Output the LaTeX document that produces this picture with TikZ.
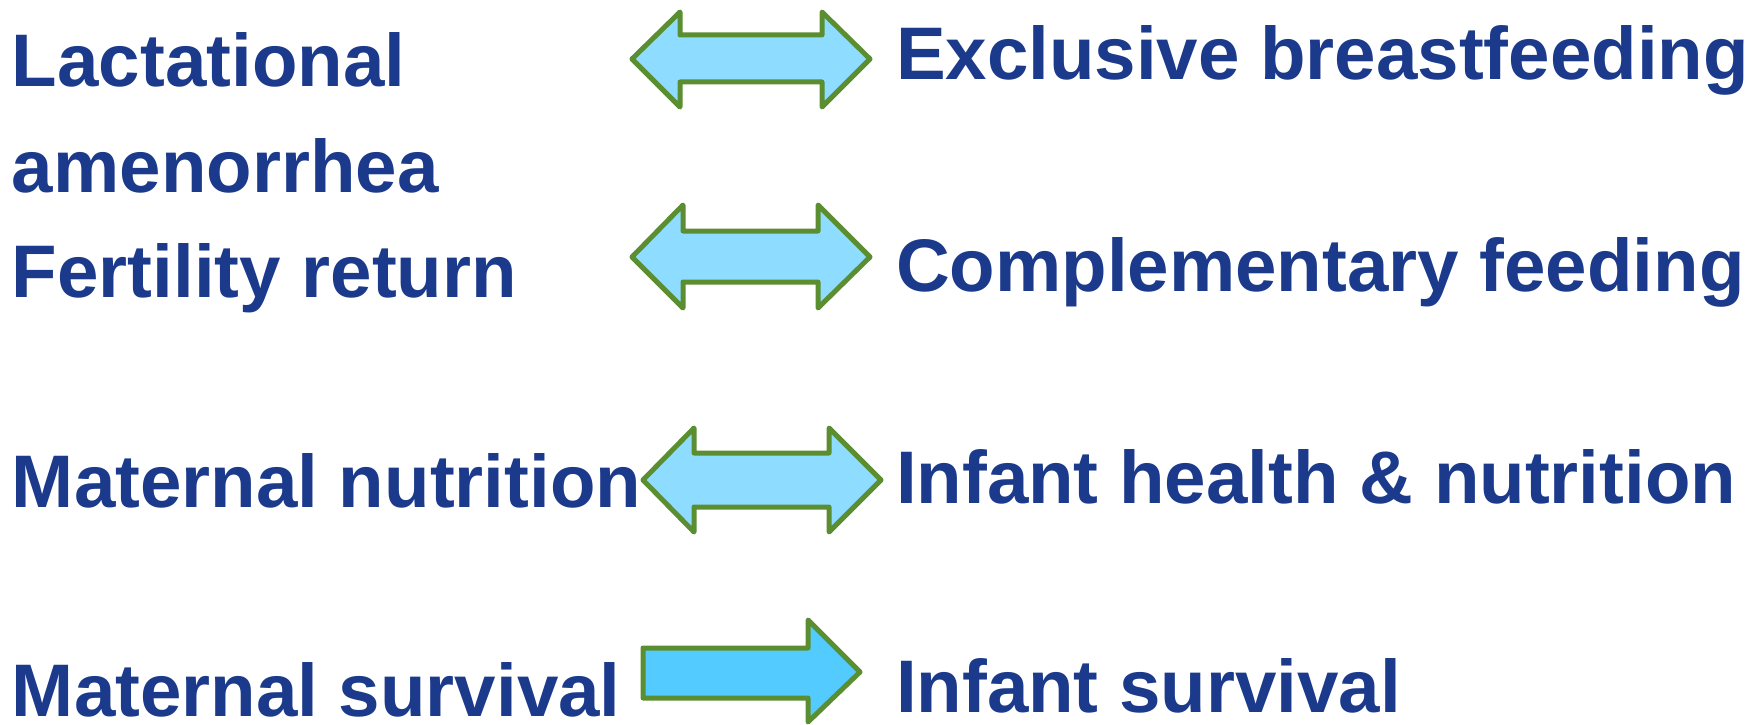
\documentclass[tikz,border=0pt]{standalone}
\usepackage{fontspec}
\setmainfont{Liberation Sans}
\definecolor{txt}{HTML}{1B3A8B}
\definecolor{edge}{HTML}{5B8E31}
\definecolor{lightfill}{HTML}{8EDCFF}
\definecolor{darkfill}{HTML}{53CBFF}
\begin{document}
\begin{tikzpicture}[x=1pt,y=-1pt,
  lbl/.style={anchor=base west,inner sep=0pt,outer sep=0pt,text depth=0pt,text=txt,font=\fontsize{74.5}{88}\selectfont\bfseries},
  arrowshape/.style={draw=edge,line width=5pt,line join=round}]
\useasboundingbox (0,0) rectangle (1754,725);
% left texts
\node[lbl] (lact) at (12,86) {Lactational};
\node[lbl] (amen) at (12,192) {amenorrhea};
\node[lbl] (fert) at (12,297) {Fertility return};
\node[lbl] (matn) at (12,507) {Maternal nutrition};
\node[lbl] (mats) at (12,716) {Maternal survival};
% right texts
\node[lbl] (excl) at (896,79) {Exclusive breastfeeding};
\node[lbl] (comp) at (896,291) {Complementary feeding};
\node[lbl] (infh) at (896,503) {Infant health \& nutrition};
\node[lbl] (infs) at (896,712) {Infant survival};
% arrows
\draw[arrowshape,fill=lightfill] (632,59) -- (680,12) -- (680,35) -- (822,35) -- (822,12) -- (870,59) -- (822,107) -- (822,82) -- (680,82) -- (680,107) -- cycle;
\draw[arrowshape,fill=lightfill] (632,257) -- (683,205) -- (683,231) -- (818,231) -- (818,205) -- (870,257) -- (818,308) -- (818,282) -- (683,282) -- (683,308) -- cycle;
\draw[arrowshape,fill=lightfill] (643,480) -- (694,428) -- (694,453) -- (829,453) -- (829,428) -- (881,480) -- (829,532) -- (829,507) -- (694,507) -- (694,532) -- cycle;
\draw[arrowshape,fill=darkfill] (643,648) -- (808,648) -- (808,620) -- (860,672) -- (808,722) -- (808,698) -- (643,698) -- cycle;
\end{tikzpicture}
\end{document}
